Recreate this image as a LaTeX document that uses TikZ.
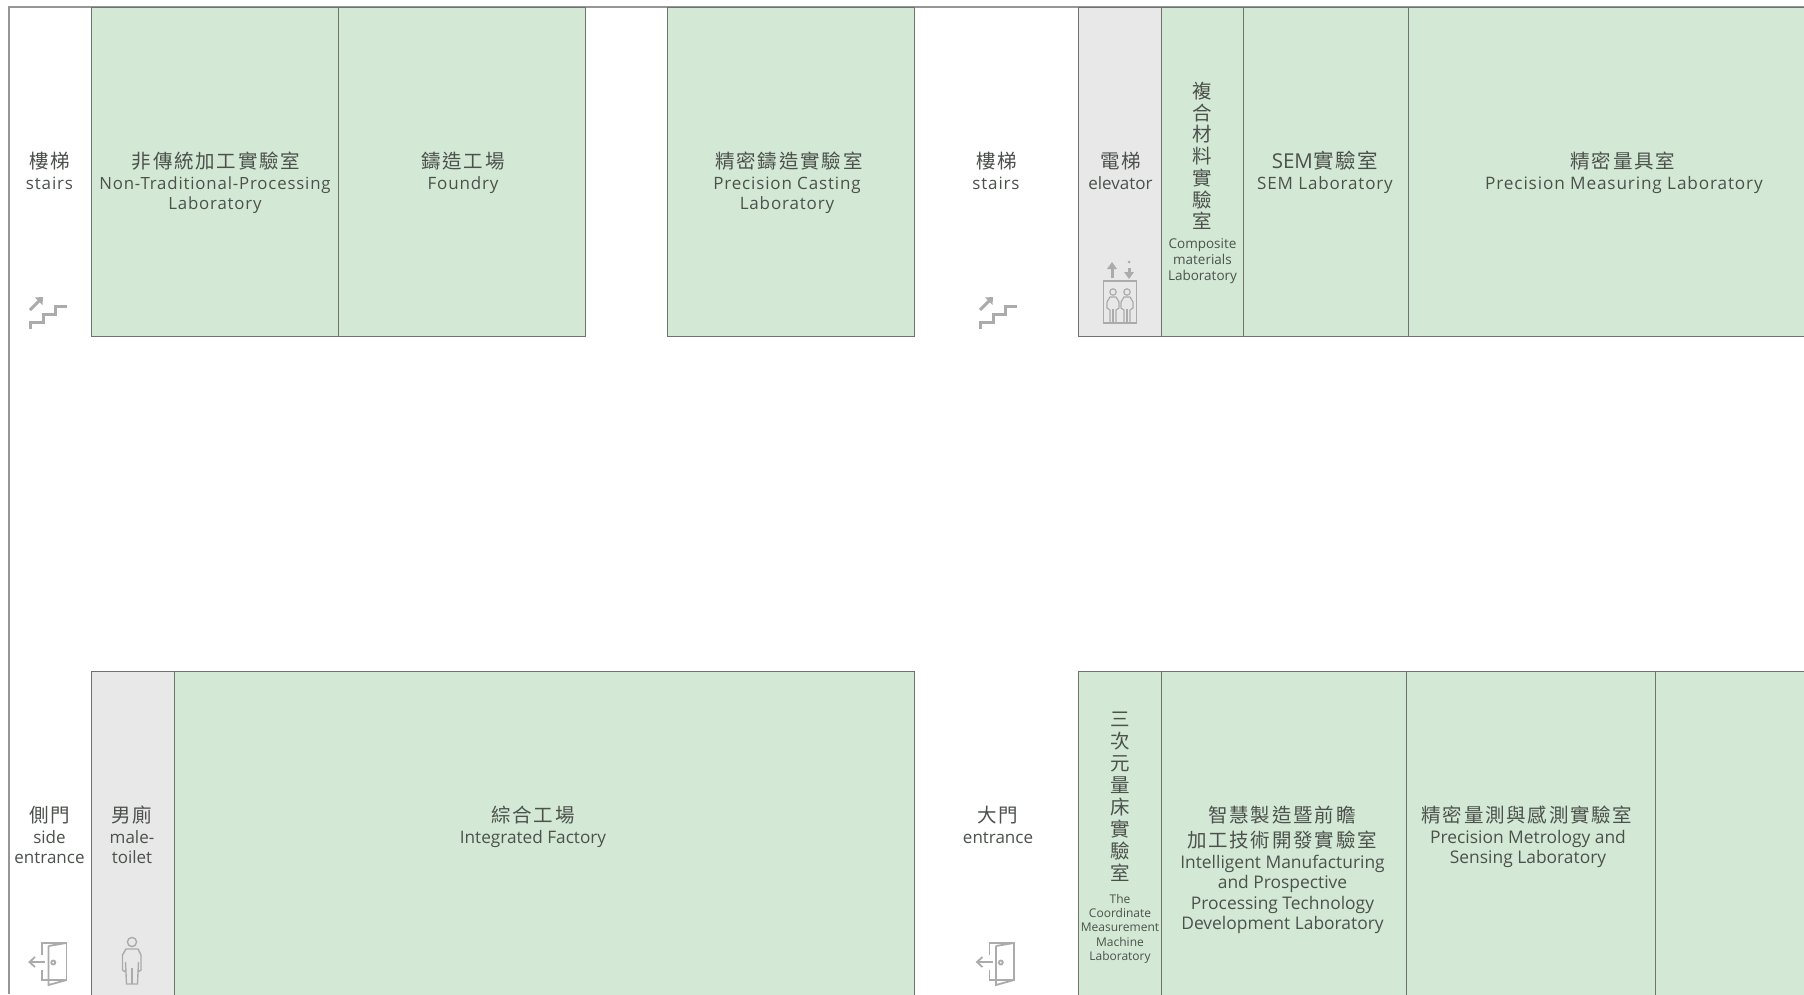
\documentclass[tikz,border=0pt]{standalone}
\usepackage{fontspec}
\setmainfont{Open Sans}
\newfontfamily\cjk[LetterSpace=9]{Noto Sans CJK TC}
\newfontfamily\cjkv{Noto Sans CJK TC}
\newfontfamily\spaced[LetterSpace=5]{Open Sans}
\definecolor{roomgreen}{HTML}{D3E9D5}
\definecolor{roomgray}{HTML}{E8E8E9}
\definecolor{edgec}{HTML}{6E736E}
\definecolor{wallc}{HTML}{969696}
\definecolor{txt}{HTML}{4C514C}
\definecolor{iconc}{HTML}{ABABAB}
\tikzset{
  room/.style={draw=edgec,line width=1pt,inner sep=0pt,outer sep=0pt},
  lab/.style={inner sep=0pt,outer sep=0pt,anchor=north,align=center,text=txt},
  icon/.style={draw=iconc,line width=1.8pt,line join=miter},
  iconthick/.style={draw=iconc,line width=3pt}
}
\newcommand{\roombox}[6]{\node[room,fill=#6,minimum width={(#4-#2)*1pt},minimum height={(#5-#3)*1pt}] (#1) at ({(#2+#4)/2},{(#3+#5)/2}) {};}
% name, x, y of first line centre, size, leading, text
\newcommand{\zh}[6]{\node[lab,font={\cjk\fontsize{#4}{#5}\selectfont\lineskiplimit=-60pt\lineskip=0pt}] (#1) at (#2,#3-42) {\rule{0pt}{50pt}#6};}
\newcommand{\zv}[6]{\node[lab,font={\cjkv\fontsize{#4}{#5}\selectfont\lineskiplimit=-60pt\lineskip=0pt}] (#1) at (#2,#3-42) {\rule{0pt}{50pt}#6};}
\newcommand{\en}[6]{\node[lab,font={\fontsize{#4}{#5}\selectfont\lineskiplimit=-60pt\lineskip=0pt}] (#1) at (#2,#3-43) {\rule{0pt}{50pt}#6};}
\newcommand{\es}[6]{\node[lab,font={\spaced\fontsize{#4}{#5}\selectfont\lineskiplimit=-60pt\lineskip=0pt}] (#1) at (#2,#3-43) {\rule{0pt}{50pt}#6};}
\newcommand{\stairsicon}[1]{
  \begin{scope}[xshift=#1pt]
    \draw[iconthick] (30,329) -- (30,322) -- (43,322) -- (43,314) -- (55,314) -- (55,306) -- (67,306);
    \draw[iconthick] (30,310) -- (40,300);
    \fill[iconc] (43,297) -- (42.5,305) -- (35,297.5) -- cycle;
  \end{scope}}
\newcommand{\dooricon}[1]{
  \begin{scope}[xshift=#1pt]
    \draw[icon] (42,955) |- (66.5,943) -- (66.5,980) -- (49,980);
    \draw[icon] (42,970) -- (42,980) -- (49,980);
    \draw[icon] (48.5,946) -- (66,943) (48.5,946) -- (48.5,985) -- (66.5,980);
    \draw[icon] (53.3,962.5) circle (2);
    \draw[icon] (45,962) -- (29.5,962);
    \draw[icon] (35,957) -- (29.5,962) -- (35,967);
  \end{scope}}
\begin{document}
\begin{tikzpicture}[x=1pt,y=-1pt]
\useasboundingbox (0,0) rectangle (1804,994);
\clip (0,0) rectangle (1804,994);
\fill[white] (0,0) rectangle (1804,994);
% walls
\coordinate (wtl) at (9,7);
\coordinate (wtr) at (1804,7);
\coordinate (wbl) at (9,994);
\draw[wallc,line width=1.4pt] (wtr) -- (wtl) -- (wbl);
% top rooms
\roombox{r1}{91.5}{7}{338.5}{336}{roomgreen}
\roombox{r2}{338.5}{7}{585}{336}{roomgreen}
\roombox{r3}{667.5}{7}{914.5}{336}{roomgreen}
\roombox{r4}{1078.5}{7}{1161.5}{336}{roomgray}
\roombox{r5}{1161.5}{7}{1243.5}{336}{roomgreen}
\roombox{r6}{1243.5}{7}{1408}{336}{roomgreen}
\roombox{r7}{1408}{7}{1810}{336}{roomgreen}
% bottom rooms
\roombox{b1}{91.5}{671}{174}{1000}{roomgray}
\roombox{b2}{174}{671}{914.5}{1000}{roomgreen}
\roombox{b3}{1078.5}{671}{1161.5}{1000}{roomgreen}
\roombox{b4}{1161.5}{671}{1406}{1000}{roomgreen}
\roombox{b5}{1406}{671}{1655}{1000}{roomgreen}
\roombox{b6}{1655}{671}{1810}{1000}{roomgreen}
% top labels
\zh{t1z}{49.5}{160}{19.5}{21}{樓梯}
\es{t1e}{49.5}{182}{17}{20.5}{stairs}
\zh{t2z}{216}{160}{19.5}{21}{非傳統加工實驗室}
\es{t2e}{215}{182}{16.8}{20.5}{Non-Traditional-Processing\\Laboratory}
\zh{t3z}{463}{160}{19.5}{21}{鑄造工場}
\es{t3e}{463}{182}{17}{20.5}{Foundry}
\zh{t4z}{789}{160}{19.5}{21}{精密鑄造實驗室}
\es{t4e}{787}{182}{17}{20.5}{Precision Casting\\Laboratory}
\zh{t5z}{997}{160}{19.5}{21}{樓梯}
\es{t5e}{996}{182}{17}{20.5}{stairs}
\zh{t6z}{1121}{160}{19.5}{21}{電梯}
\en{t6e}{1120.5}{182}{17}{20.5}{elevator}
\zv{t7z}{1202.5}{90.5}{19.5}{21.7}{複\\合\\材\\料\\實\\驗\\室}
\en{t7e}{1202.5}{241}{13.5}{16.2}{Composite\\materials\\Laboratory}
\node[lab,font={\fontsize{20.5}{22}\selectfont}] (t8z) at (1325,151.5) {SEM\cjk 實驗室};
\es{t8e}{1325}{182}{17}{20.5}{SEM Laboratory}
\zh{t9z}{1623}{160}{19.5}{21}{精密量具室}
\es{t9e}{1624}{182}{17.2}{20.5}{Precision Measuring Laboratory}
% bottom labels
\zh{s1z}{49.5}{814}{19.5}{21}{側門}
\en{s1e}{49.5}{836}{17}{20.5}{side\\entrance}
\zh{s2z}{132}{814}{19.5}{21}{男廁}
\en{s2e}{132}{836}{17}{20.5}{male-\\toilet}
\zh{s3z}{533}{814}{19.5}{21}{綜合工場}
\en{s3e}{533}{836}{17.2}{20.5}{Integrated Factory}
\zh{s4z}{998}{814}{19.5}{21}{大門}
\en{s4e}{998}{836}{17}{20.5}{entrance}
\zv{s5z}{1120}{718}{19.5}{22}{三\\次\\元\\量\\床\\實\\驗\\室}
\en{s5e}{1120}{896}{12}{14.4}{The\\Coordinate\\Measurement\\Machine\\Laboratory}
\zh{s6z}{1282}{814}{19.5}{25}{智慧製造暨前瞻\\加工技術開發實驗室}
\en{s6e}{1282.5}{861}{17.4}{20.5}{Intelligent Manufacturing\\and Prospective\\Processing Technology\\Development Laboratory}
\zh{s7z}{1527}{814}{19.5}{21}{精密量測與感測實驗室}
\en{s7e}{1528}{836}{17.4}{20.5}{Precision Metrology and\\Sensing Laboratory}
% icons
\stairsicon{0}
\stairsicon{950}
\dooricon{0}
\dooricon{947.5}
% elevator icon
\draw[icon] (1103.5,281) rectangle (1136.5,323);
\draw[iconthick] (1112,278) -- (1112,268);
\fill[iconc] (1112,262) -- (1117,269) -- (1107,269) -- cycle;
\draw[iconthick] (1129,268) -- (1129,273);
\fill[iconc] (1129,279) -- (1134,272) -- (1124,272) -- cycle;
\fill[iconc] (1129,262) circle (1.5);
\foreach \px in {1113,1127}{
  \begin{scope}[xshift=\px pt]
    \draw[iconc,line width=1.2pt] (0,292) circle (3.2);
    \draw[iconc,line width=1.2pt] (-3,322) -- (-3,310) -- (-6,308) -- (-6,302) -- (-3,297) -- (3,297) -- (6,302) -- (6,308) -- (3,310) -- (3,322);
    \draw[iconc,line width=1.2pt] (0,309) -- (0,322);
  \end{scope}
}
% person icon
\draw[iconc,line width=1.4pt] (132,942) circle (4.6);
\draw[iconc,line width=1.4pt] (125.5,972) -- (122.5,970) -- (122.5,955) -- (126,949) -- (138,949) -- (141,955) -- (141,970) -- (138,972);
\draw[iconc,line width=1.4pt] (125.5,962) -- (126.5,984) -- (137.5,984) -- (138.5,962);
\draw[iconc,line width=1.4pt] (132,968) -- (132,984);
\end{tikzpicture}
\end{document}
